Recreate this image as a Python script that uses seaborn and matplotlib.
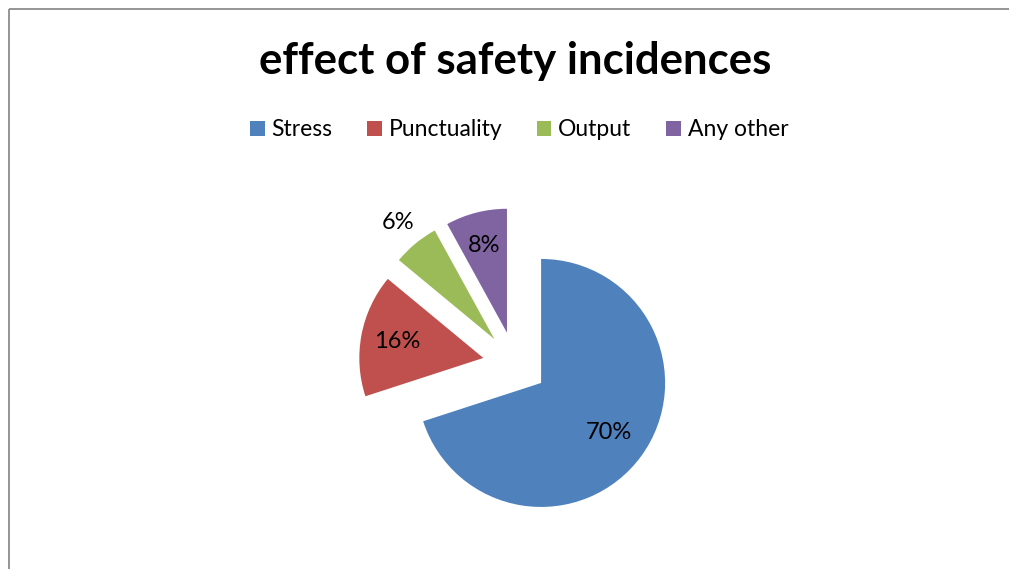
import numpy as np
import matplotlib
matplotlib.use("Agg")
import matplotlib.pyplot as plt
from matplotlib.lines import Line2D
import seaborn as sns

# data
categories = ["Stress", "Punctuality", "Output", "Any other"]
shares = [70, 16, 6, 8]
colors = ["#4F81BD", "#C0504D", "#9BBB59", "#8064A2"]

sns.set_theme(style="white")
plt.rcParams["font.family"] = ["Lato", "DejaVu Sans"]
plt.rcParams["text.color"] = "black"

W, H = 1011, 569
fig = plt.figure(figsize=(W / 100, H / 100), dpi=100, facecolor="white")

# axes over the whole figure, 1 data unit = radius in px
R = 124.0
cx, cy = 515.0, 364.0
ax = fig.add_axes([0, 0, 1, 1])
wedges, texts = ax.pie(
    shares, colors=colors, startangle=90, counterclock=False,
    explode=[0.26] * 4, radius=1.0,
    wedgeprops=dict(linewidth=0),
)
ax.set_xlim(-cx / R, (W - cx) / R)
ax.set_ylim(-(H - cy) / R, cy / R)
ax.set_aspect("auto")
ax.axis("off")

# percentage labels, "Output" sits outside like in the original
dists = [0.68, 0.71, 1.22, 0.73]
for w, v, d in zip(wedges, shares, dists):
    ang = np.deg2rad((w.theta1 + w.theta2) / 2)
    x0, y0 = w.center
    ax.text(x0 + d * np.cos(ang), y0 + d * np.sin(ang), f"{v}%",
            ha="center", va="center", fontsize=17, color="black")

fig.text(515 / W, 1 - 61 / H, "effect of safety incidences",
         ha="center", va="center", fontsize=31.5, fontweight="bold", color="black")

fig.legend(wedges, categories, loc="center", bbox_to_anchor=(519 / W, 1 - 130 / H),
           ncol=4, frameon=False, fontsize=16.5, handlelength=0.65, handleheight=0.65,
           handletextpad=0.3, columnspacing=1.5, labelcolor="black")

# chart area border (only left and top visible in the crop)
bx, by = 8.5 / W, 1 - 8.5 / H
border = dict(transform=fig.transFigure, color="#8c8c8c", linewidth=1.3,
              solid_capstyle="butt")
fig.add_artist(Line2D([bx, bx], [0, by], **border))
fig.add_artist(Line2D([bx, 1 - 2 / W], [by, by], **border))

fig.savefig("out.png", dpi=100, facecolor="white")
